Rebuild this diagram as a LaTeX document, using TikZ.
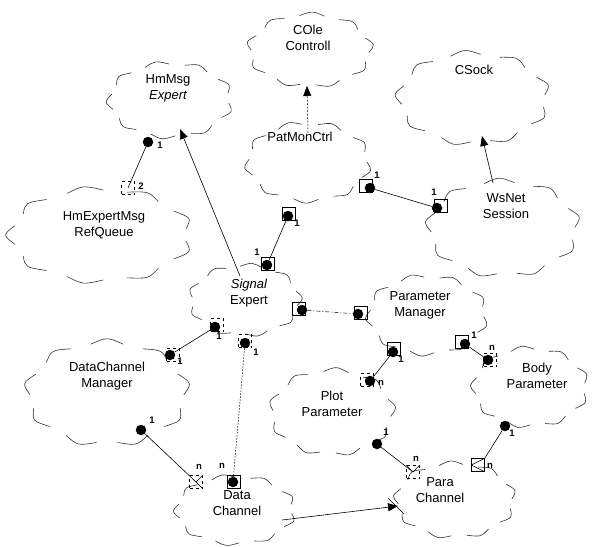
\documentclass[tikz,border=0pt]{standalone}
\usepackage{fontspec}
\setmainfont{Liberation Sans}
\usetikzlibrary{arrows.meta}
\newcommand{\bcloud}[6]{% name, cx, cy, rx, ry, angle offset
  \coordinate (#1) at (#2,#3);
  \foreach \i in {0,...,8}{
    \pgfmathsetmacro\aA{\i*40+#6}
    \pgfmathsetmacro\aB{\aA+24}
    \pgfmathsetmacro\aM{\aA+12}
    \draw[cloudline] ({#2+#4*cos(\aA)},{#3+#5*sin(\aA)})
      .. controls ({#2+1.12*#4*cos(\aM)},{#3+1.12*#5*sin(\aM)})
      .. ({#2+#4*cos(\aB)},{#3+#5*sin(\aB)});
  }}
\begin{document}
\begin{tikzpicture}[x=1pt,y=-1pt,
  cloudline/.style={draw=black!80, line width=0.6pt, line cap=round},
  lbl/.style={font=\fontsize{13}{16}\selectfont, align=center, inner sep=0pt},
  dotn/.style={circle, fill=black, inner sep=0pt, minimum size=10.5pt},
  sq/.style={draw, line width=0.5pt, minimum size=13pt, inner sep=0pt},
  mult/.style={font=\fontsize{9.5}{9.5}\selectfont\bfseries, inner sep=0pt},
  conn/.style={line width=0.6pt},
  inh/.style={line width=0.6pt, -{Triangle[length=10pt,width=8pt]}}]
\useasboundingbox (0,0) rectangle (596,546);
% clouds
\bcloud{cHm}{170}{100}{59}{36}{5}
\bcloud{cOle}{310}{50}{59}{35}{20}
\bcloud{cSock}{473}{98}{72}{44}{12}
\bcloud{cPat}{308}{162}{59}{38}{0}
\bcloud{cWs}{503}{228}{72}{46}{15}
\bcloud{cRq}{100}{235}{87}{45}{8}
\bcloud{cSig}{245}{300}{53}{34}{25}
\bcloud{cPm}{427}{315}{57}{38}{3}
\bcloud{cDcm}{107}{393}{77}{50}{18}
\bcloud{cBody}{530}{387}{55}{38}{10}
\bcloud{cPlot}{332}{412}{59}{41}{22}
\bcloud{cDc}{235}{510}{57}{33}{6}
\bcloud{cPc}{455}{500}{57}{36}{14}
% texts
\node[lbl] (tHm) at (168,88) {HmMsg\\\itshape Expert};
\node[lbl] (tOle) at (308,38) {COle\\Controll};
\node[lbl] (tSock) at (474,70) {CSock};
\node[lbl] (tPat) at (300,137) {PatMonCtrl};
\node[lbl] (tWs) at (506,206) {WsNet\\Session};
\node[lbl] (tRq) at (104,225) {HmExpertMsg\\RefQueue};
\node[lbl] (tSig) at (249,293) {\itshape Signal\\Expert};
\node[lbl] (tPm) at (420,305) {Parameter\\Manager};
\node[lbl] (tDcm) at (107,376) {DataChannel\\Manager};
\node[lbl] (tBody) at (537,376) {Body\\Parameter};
\node[lbl] (tPlot) at (332,404) {Plot\\Parameter};
\node[lbl] (tDc) at (237,503) {Data\\Channel};
\node[lbl] (tPc) at (440,490) {Para\\Channel};
% inheritance
\coordinate (s1) at (240,276); \coordinate (e1) at (180,129);
\draw[inh] (s1) -- (e1);
\coordinate (s2) at (308,133); \coordinate (e2) at (307,86);
\draw[inh, dash pattern=on 2pt off 1.5pt, line width=0.5pt] (s2) -- (e2);
\coordinate (s3) at (493,183); \coordinate (e3) at (482,136);
\draw[inh] (s3) -- (e3);
\coordinate (s4) at (282,520); \coordinate (e4) at (398,506);
\draw[inh] (s4) -- (e4);
\draw[line width=0.5pt] (388,498) -- (396,506) -- (404,514);
% HmExpertMsgRefQueue -- HmMsgExpert
\node[sq, dashed] (q1) at (128,188) {};
\node[dotn] (d1) at (148,142) {};
\draw[conn] (q1.center) -- (d1);
\node[mult] at (160,145) {1};
\node[mult] at (141,186) {2};
% Signal -- PatMonCtrl
\node[sq] at (289,214) {};
\node[dotn] (d2a) at (288,216) {};
\node[sq] at (268,264) {};
\node[dotn] (d2b) at (267,265) {};
\draw[conn] (d2a) -- (d2b);
\node[mult] at (297,223) {1};
\node[mult] at (257,252) {1};
% PatMonCtrl -- WsNet
\node[sq] at (366,186) {};
\node[dotn] (d3a) at (370,188) {};
\node[sq] at (441,206) {};
\node[dotn] (d3b) at (437,208) {};
\draw[conn] (d3a) -- (d3b);
\node[mult] at (377,175) {1};
\node[mult] at (434,192) {1};
% Signal -- DataChannelManager
\node[sq, dashed] at (217,325) {};
\node[dotn] (d4a) at (215,327) {};
\node[sq, dashed] at (173,355) {};
\node[dotn] (d4b) at (170,355) {};
\draw[conn] (d4a) -- (d4b);
\node[mult] at (219,336) {1};
\node[mult] at (180,361) {1};
% Signal -- DataChannel
\node[sq, dashed] at (245,341) {};
\node[dotn] (d5a) at (245,343) {};
\node[sq] at (234,482) {};
\node[dotn] (d5b) at (233,482) {};
\draw[conn, dash pattern=on 1.5pt off 1.5pt, line width=0.5pt] (d5a) -- (d5b);
\node[mult] at (256,352) {1};
\node[mult] at (222,466) {n};
% Signal -- ParameterManager
\node[sq] at (299,309) {};
\node[dotn] (d6a) at (302,310) {};
\node[sq] at (361,313) {};
\node[dotn] (d6b) at (358,314) {};
\draw[conn, dash pattern=on 4pt off 2pt on 1pt off 2pt, line width=0.5pt] (d6a) -- (d6b);
% ParameterManager -- PlotParameter
\node[sq] at (394,349) {};
\node[dotn] (d7a) at (393,352) {};
\node[sq, dashed] at (367,380) {};
\node[dotn] (d7b) at (370,381) {};
\draw[conn] (d7a) -- (d7b);
\node[mult] at (401,359) {1};
\node[mult] at (381,383) {n};
% ParameterManager -- BodyParameter
\node[sq] at (462,342) {};
\node[dotn] (d8a) at (465,344) {};
\node[sq, dashed] at (490,360) {};
\node[dotn] (d8b) at (488,360) {};
\draw[conn] (d8a) -- (d8b);
\node[mult] at (474,335) {1};
\node[mult] at (492,348) {n};
% DataChannelManager -- DataChannel
\node[dotn] (d9a) at (141,430) {};
\node[sq, dashed] (q9) at (196,482) {};
\draw[conn] (d9a) -- (q9.center);
\draw[line width=0.5pt] (q9.north east) -- (q9.center) -- (q9.south east);
\node[mult] at (152,420) {1};
\node[mult] at (199,467) {n};
% PlotParameter -- ParaChannel
\node[dotn] (d10a) at (377,444) {};
\node[sq, dashed] (q10) at (413,472) {};
\draw[conn] (d10a) -- (q10.center);
\draw[line width=0.5pt] (q10.north west) -- (q10.center) -- (q10.north east);
\node[mult] at (386,432) {1};
\node[mult] at (416,459) {n};
% BodyParameter -- ParaChannel
\node[dotn] (d11a) at (505,426) {};
\node[sq] (q11) at (478,465) {};
\draw[conn] (d11a) -- (q11.north east);
\draw[line width=0.5pt] (q11.north east) -- (q11.west) -- (q11.south east);
\node[mult] at (512,433) {1};
\node[mult] at (490,466) {n};
\end{tikzpicture}
\end{document}
